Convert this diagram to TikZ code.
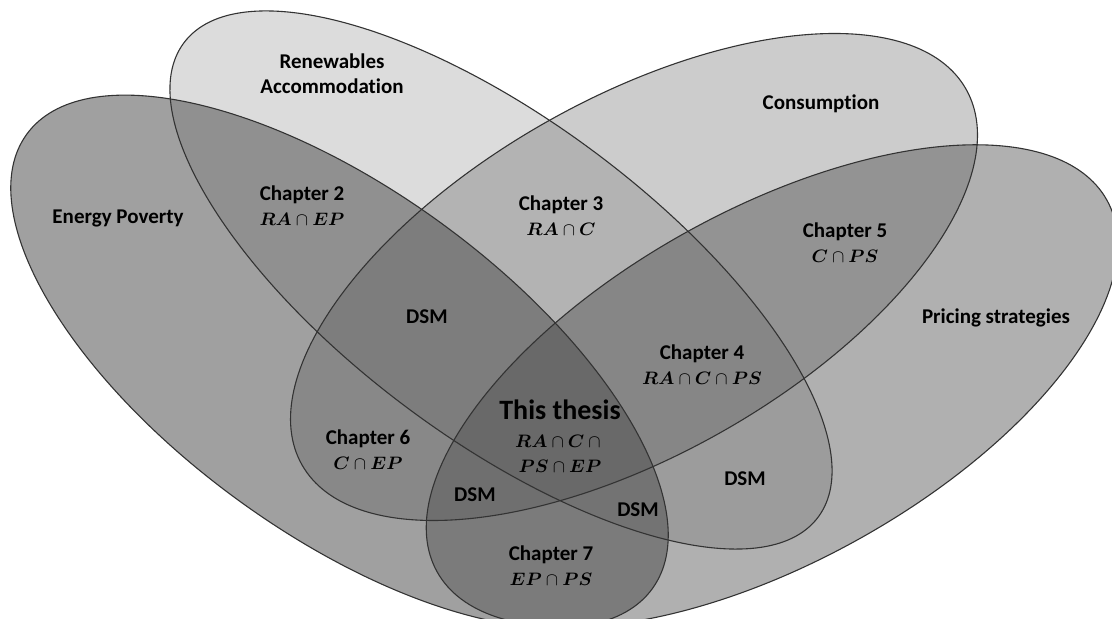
\documentclass[tikz,border=0pt]{standalone}
\usepackage{fontspec}
\setmainfont{Carlito}[Ligatures=NoCommon]
\usepackage{amsmath,bm}
\newcommand{\setlbl}[1]{{\fontsize{9.5}{12.5}\selectfont$#1$}}

\begin{document}
\begin{tikzpicture}[x=0.5pt, y=0.5pt, line join=round,
    txt/.style={font=\bfseries\fontsize{10.5}{12.5}\selectfont, align=center, inner sep=0pt},
    ring/.style={draw=black!80, line width=0.55pt},
    veil/.style={fill=black!69, fill opacity=#1}]

  \clip (0,0) rectangle (1112,619);

  % ----------------------------------------------------
  % centres of the four sets
  % ----------------------------------------------------
  \coordinate (EP) at (339.5,257.5);
  \coordinate (RA) at (501,339);
  \coordinate (C)  at (634,342);
  \coordinate (PS) at (772,233);

  % fills (same grey, different opacity)
  \fill[veil=0.54, shift={(EP)}, rotate=-36]   (0,0) ellipse (386.6 and 171.7);
  \fill[veil=0.20, shift={(RA)}, rotate=-36.8] (0,0) ellipse (396 and 158.5);
  \fill[veil=0.29, shift={(C)},  rotate=29.5]  (0,0) ellipse (381.5 and 178);
  \fill[veil=0.45, shift={(PS)}, rotate=29]    (0,0) ellipse (383 and 176);

  % outlines on top
  \draw[ring, shift={(EP)}, rotate=-36]   (0,0) ellipse (386.6 and 171.7);
  \draw[ring, shift={(RA)}, rotate=-36.8] (0,0) ellipse (396 and 158.5);
  \draw[ring, shift={(C)},  rotate=29.5]  (0,0) ellipse (381.5 and 178);
  \draw[ring, shift={(PS)}, rotate=29]    (0,0) ellipse (383 and 176);

  % ----------------------------------------------------
  % set names
  % ----------------------------------------------------
  \node[txt] (nameRA) at (332,545) {Renewables\\Accommodation};
  \node[txt] (nameEP) at (118,401) {Energy Poverty};
  \node[txt] (nameC)  at (821,515) {Consumption};
  \node[txt] (namePS) at (996,301) {Pricing strategies};

  % ----------------------------------------------------
  % chapters and overlaps
  % ----------------------------------------------------
  \node[txt] (ch2) at (302,413.5) {Chapter 2\\\setlbl{\bm{RA}\cap\bm{EP}}};
  \node[txt] (ch3) at (561,403.5) {Chapter 3\\\setlbl{\bm{RA}\cap\bm{C}}};
  \node[txt] (ch5) at (845,376.5) {Chapter 5\\\setlbl{\bm{C}\cap\bm{PS}}};
  \node[txt] (ch4) at (702,254.5) {Chapter 4\\\setlbl{\bm{RA}\cap\bm{C}\cap\bm{PS}}};
  \node[txt] (ch6) at (368,169.5) {Chapter 6\\\setlbl{\bm{C}\cap\bm{EP}}};
  \node[txt] (ch7) at (551,53.5)  {Chapter 7\\\setlbl{\bm{EP}\cap\bm{PS}}};

  \node[txt, font=\bfseries\fontsize{14}{15}\selectfont] (thesis) at (560,183)
    {This thesis\\[-1pt]\setlbl{\bm{RA}\cap\bm{C}\cap{}}\\[-2.5pt]\setlbl{\bm{PS}\cap\bm{EP}}};

  \node[txt] (dsmA) at (427,302) {DSM};
  \node[txt] (dsmB) at (475,124) {DSM};
  \node[txt] (dsmC) at (638,109) {DSM};
  \node[txt] (dsmD) at (745,140) {DSM};

\end{tikzpicture}
\end{document}
